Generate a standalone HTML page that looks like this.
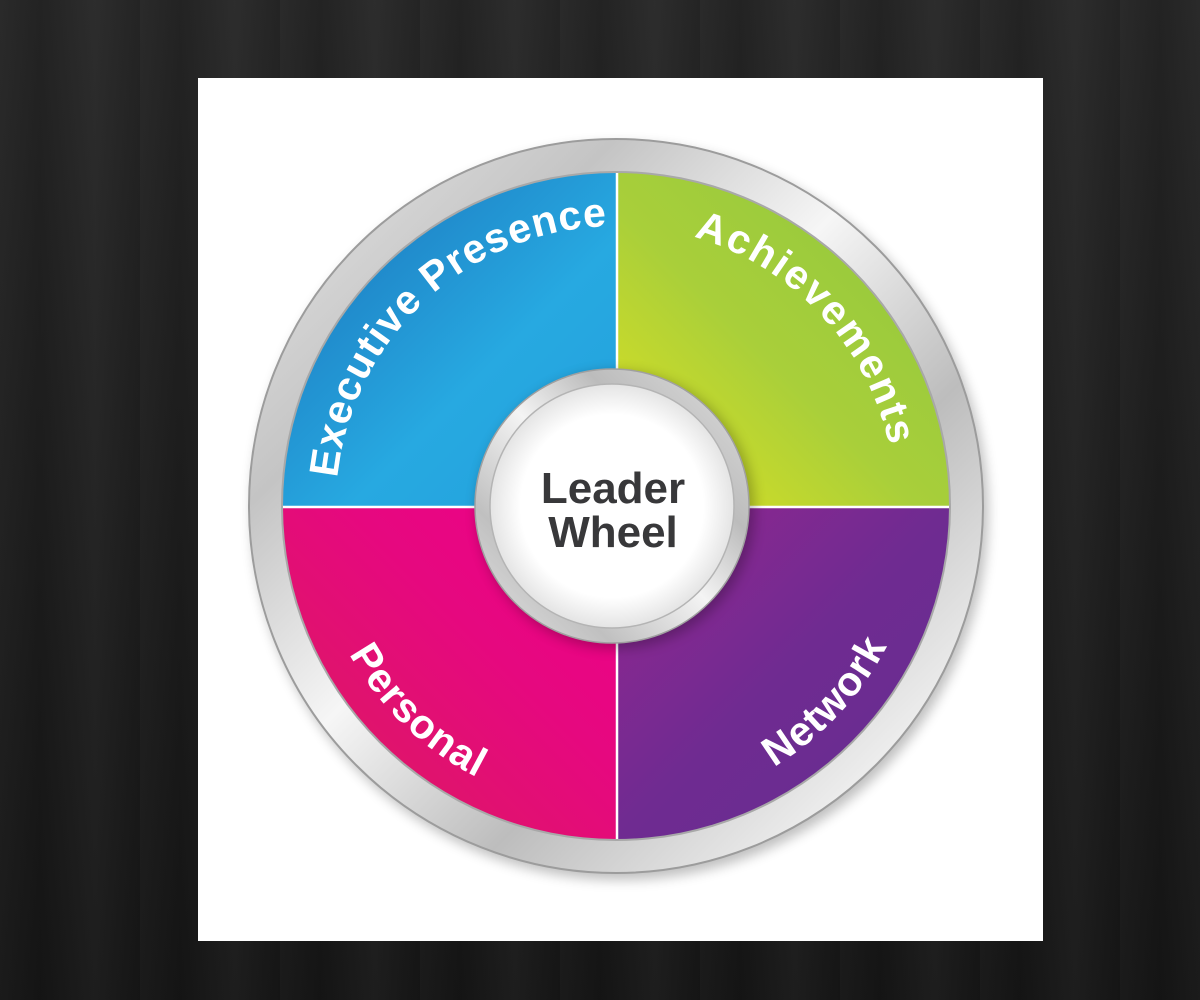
<!DOCTYPE html>
<html><head><meta charset="utf-8"><style>
html,body{margin:0;padding:0;width:1200px;height:1000px;overflow:hidden;
background:#1d1d1d;
background-image:repeating-linear-gradient(90deg,rgba(255,255,255,0.02) 0px,rgba(0,0,0,0.08) 40px,rgba(255,255,255,0.03) 95px,rgba(0,0,0,0.05) 140px),linear-gradient(180deg,#262626,#161616);}
svg{position:absolute;left:0;top:0}
</style></head><body>
<svg width="1200" height="1000" viewBox="0 0 1200 1000" xmlns="http://www.w3.org/2000/svg">
<defs>
<linearGradient id="silver" x1="0" y1="0" x2="1" y2="1">
<stop offset="0" stop-color="#e8e8e8"/><stop offset="0.25" stop-color="#c4c4c4"/><stop offset="0.45" stop-color="#f6f6f6"/><stop offset="0.65" stop-color="#bdbdbd"/><stop offset="0.85" stop-color="#ececec"/><stop offset="1" stop-color="#b8b8b8"/>
</linearGradient>
<linearGradient id="silver2" x1="1" y1="0" x2="0" y2="1">
<stop offset="0" stop-color="#e0e0e0"/><stop offset="0.3" stop-color="#bcbcbc"/><stop offset="0.5" stop-color="#f4f4f4"/><stop offset="0.75" stop-color="#c0c0c0"/><stop offset="1" stop-color="#e6e6e6"/>
</linearGradient>
<radialGradient id="white" cx="0.5" cy="0.5" r="0.5"><stop offset="0.75" stop-color="#ffffff"/><stop offset="1" stop-color="#e4e4e4"/></radialGradient>
<linearGradient id="gb" x1="283" y1="173" x2="616" y2="506" gradientUnits="userSpaceOnUse"><stop offset="0" stop-color="#1a6fb8"/><stop offset="0.6" stop-color="#27a9e1"/><stop offset="1" stop-color="#22a0dc"/></linearGradient>
<linearGradient id="gg" x1="616" y1="506" x2="949" y2="173" gradientUnits="userSpaceOnUse"><stop offset="0" stop-color="#e2e31f"/><stop offset="0.45" stop-color="#a9cf3a"/><stop offset="1" stop-color="#8cc63f"/></linearGradient>
<linearGradient id="gp" x1="616" y1="506" x2="283" y2="839" gradientUnits="userSpaceOnUse"><stop offset="0" stop-color="#ee008b"/><stop offset="0.4" stop-color="#e6087f"/><stop offset="1" stop-color="#d91e5b"/></linearGradient>
<linearGradient id="gv" x1="616" y1="506" x2="949" y2="839" gradientUnits="userSpaceOnUse"><stop offset="0" stop-color="#952690"/><stop offset="0.5" stop-color="#6f2b91"/><stop offset="1" stop-color="#652d91"/></linearGradient>
<filter id="sh" x="-20%" y="-20%" width="140%" height="140%"><feGaussianBlur stdDeviation="6"/></filter>
<path id="top" d="M336,506 A280,280 0 0 1 896,506"/>
<path id="bot" d="M311,506 A305,305 0 0 0 921,506"/>
</defs>
<rect x="198" y="78" width="845" height="863" fill="#ffffff"/>
<circle cx="620" cy="512" r="368" fill="#000" opacity="0.25" filter="url(#sh)"/>
<circle cx="616" cy="506" r="367" fill="url(#silver)" stroke="#9c9c9c" stroke-width="2"/>
<circle cx="616" cy="506" r="335" fill="#a8a8a8"/>
<path d="M616,506 L283,506 A333,333 0 0 1 616,173 Z" fill="url(#gb)"/>
<path d="M616,506 L616,173 A333,333 0 0 1 949,506 Z" fill="url(#gg)"/>
<path d="M616,506 L949,506 A333,333 0 0 1 616,839 Z" fill="url(#gv)"/>
<path d="M616,506 L616,839 A333,333 0 0 1 283,506 Z" fill="url(#gp)"/>
<line x1="617" y1="173" x2="617" y2="839" stroke="#fff" stroke-width="2.5"/>
<line x1="283" y1="507" x2="949" y2="507" stroke="#fff" stroke-width="2.5"/>
<g font-family="'Liberation Sans',sans-serif" font-weight="bold" font-size="41" fill="#fff" letter-spacing="1">
<g transform="rotate(-43 616 506)"><text><textPath href="#top" startOffset="50%" text-anchor="middle">Executive Presence</textPath></text></g>
<g transform="rotate(47 616 506)"><text><textPath href="#top" startOffset="50%" text-anchor="middle" letter-spacing="2">Achievements</textPath></text></g>
<g transform="rotate(44 616 506)"><text><textPath href="#bot" startOffset="50%" text-anchor="middle">Personal</textPath></text></g>
<g transform="rotate(-47 616 506)"><text><textPath href="#bot" startOffset="50%" text-anchor="middle">Network</textPath></text></g>
</g>
<circle cx="616" cy="510" r="139" fill="#000" opacity="0.25" filter="url(#sh)"/>
<circle cx="612" cy="506" r="137" fill="url(#silver2)" stroke="#a0a0a0" stroke-width="1.5"/>
<circle cx="612" cy="506" r="122" fill="url(#white)" stroke="#b4b4b4" stroke-width="1.5"/>
<g font-family="'Liberation Sans',sans-serif" font-weight="bold" font-size="44" fill="#38383a" text-anchor="middle">
<text x="613" y="503">Leader</text>
<text x="613" y="547">Wheel</text>
</g>
</svg>
</body></html>
